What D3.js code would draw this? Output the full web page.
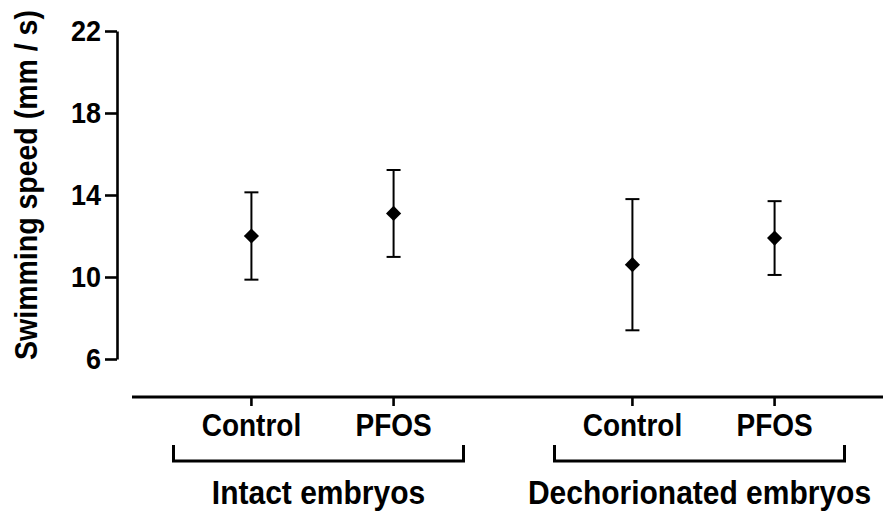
<!DOCTYPE html>
<html>
<head>
<meta charset="utf-8">
<script src="https://cdn.jsdelivr.net/npm/d3@7"></script>
<style>
  body { margin: 0; background: #fff; }
  text { font-family: "Liberation Sans", Arial, sans-serif; font-weight: bold; fill: #000; }
</style>
</head>
<body>
<div id="chart"></div>
<script>
// groups and treatments along the x axis
var groups = ["Intact embryos", "Dechorionated embryos"];
var treatments = ["Control", "PFOS"];
// swimming speed (mm / s), one value per group x treatment
var means = [12.0, 13.1, 10.6, 11.9];
var errs = [2.13, 2.12, 3.2, 1.8];
var yTicks = [6, 10, 14, 18, 22];

var width = 883, height = 514;
var stretch = 'scale(1,1.1)'; // glyphs in the original are a bit taller than Arial

var rows = [];
groups.forEach(function(g, i) {
  treatments.forEach(function(t, j) {
    var k = i * treatments.length + j;
    rows.push({ group: g, treat: t, mean: means[k], err: errs[k] });
  });
});

var svg = d3.select('#chart').append('svg')
    .attr('width', width)
    .attr('height', height);

//y scale
var y = d3.scaleLinear().domain([6, 22]).range([359, 31]);

//outer scale for groups, inner for treatments
var xGroup = d3.scaleBand().domain(groups).range([132, 894]);
var xTreat = d3.scalePoint().domain(treatments).range([0, xGroup.bandwidth()]).padding(0.84);
function xPos(d) { return xGroup(d.group) + xTreat(d.treat); }

//y axis
var yAxis = svg.append('g')
    .attr('transform', 'translate(117,0)')
    .call(d3.axisLeft(y).tickValues(yTicks).tickSize(12).tickSizeOuter(0).tickPadding(4));
yAxis.select('.domain').attr('stroke', '#000').attr('stroke-width', 2.6);
yAxis.selectAll('.tick line').attr('stroke', '#000').attr('stroke-width', 2.6);
yAxis.selectAll('.tick text')
    .style('font-family', '"Liberation Sans", Arial, sans-serif')
    .style('font-weight', 'bold')
    .style('font-size', '27px')
    .attr('fill', '#000')
    .attr('transform', stretch);

svg.append('text')
    .attr('transform', 'translate(37,185) rotate(-90) ' + stretch)
    .attr('text-anchor', 'middle')
    .style('font-size', '28.5px')
    .text('Swimming speed (mm / s)');

//x axis line with ticks
svg.append('line')
    .attr('x1', 132).attr('x2', width)
    .attr('y1', 397).attr('y2', 397)
    .attr('stroke', '#000').attr('stroke-width', 2.8);

svg.selectAll('.xtick')
    .data(rows)
  .enter().append('line')
    .attr('class', 'xtick')
    .attr('x1', xPos).attr('x2', xPos)
    .attr('y1', 397).attr('y2', 406)
    .attr('stroke', '#000').attr('stroke-width', 2.6);

svg.selectAll('.xlab')
    .data(rows)
  .enter().append('text')
    .attr('class', 'xlab')
    .attr('transform', function(d) { return 'translate(' + xPos(d) + ',436) ' + stretch; })
    .attr('text-anchor', 'middle')
    .style('font-size', '28px')
    .text(function(d) { return d.treat; });

//group brackets
var brW = 145, brOff = -4;
var br = svg.selectAll('.bracket')
    .data(groups)
  .enter().append('g')
    .attr('class', 'bracket')
    .attr('transform', function(g) { return 'translate(' + (xGroup(g) + xGroup.bandwidth() / 2 + brOff) + ',0)'; });

br.append('path')
    .attr('d', 'M' + (-brW) + ',445V461H' + brW + 'V445')
    .attr('fill', 'none')
    .attr('stroke', '#000')
    .attr('stroke-width', 3);

br.append('text')
    .attr('transform', 'translate(0,504) ' + stretch)
    .attr('text-anchor', 'middle')
    .style('font-size', '30px')
    .text(function(g) { return g; });

//error bars
var capW = 7;
var eb = svg.selectAll('.eb')
    .data(rows)
  .enter().append('g')
    .attr('class', 'eb')
    .attr('transform', function(d) { return 'translate(' + xPos(d) + ',0)'; });

eb.append('line')
    .attr('x1', 0).attr('x2', 0)
    .attr('y1', function(d) { return y(d.mean + d.err); })
    .attr('y2', function(d) { return y(d.mean - d.err); })
    .attr('stroke', '#000').attr('stroke-width', 2);

eb.append('line')
    .attr('x1', -capW).attr('x2', capW)
    .attr('y1', function(d) { return y(d.mean + d.err); })
    .attr('y2', function(d) { return y(d.mean + d.err); })
    .attr('stroke', '#000').attr('stroke-width', 2);

eb.append('line')
    .attr('x1', -capW).attr('x2', capW)
    .attr('y1', function(d) { return y(d.mean - d.err); })
    .attr('y2', function(d) { return y(d.mean - d.err); })
    .attr('stroke', '#000').attr('stroke-width', 2);

eb.append('path')
    .attr('d', d3.symbol(d3.symbolSquare, 115))
    .attr('transform', function(d) { return 'translate(0,' + y(d.mean) + ') rotate(45)'; })
    .attr('fill', '#000');
</script>
</body>
</html>
